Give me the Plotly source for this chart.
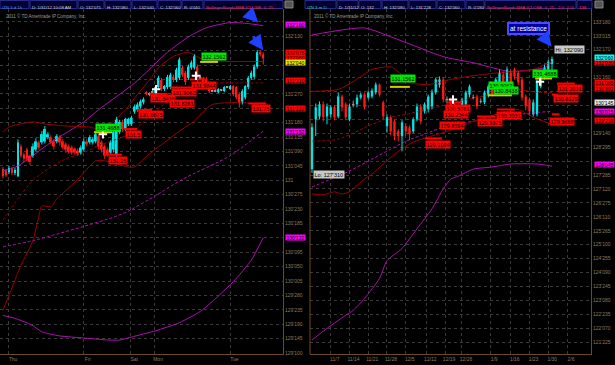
import plotly.graph_objects as go

# ================= DATA =================
# ---- Left panel: /ZN 3 d 1h (hourly candles, index = bar number) ----
L_open = [131.11,131.09,131.08,131.11,131.07,131.04,131.33,131.25,131.30,131.24,
          131.24,131.30,131.37,131.37,131.38,131.42,131.42,131.38,131.38,131.42,
          131.38,131.35,131.33,131.32,131.31,131.29,131.27,131.30,131.38,131.37,
          131.37,131.38,131.43,131.37,131.33,131.30,131.27,131.30,131.25,131.47,
          131.57,131.50,131.55,131.55,131.67,131.69,131.72,131.76,131.86,131.84,
          131.86,131.85,131.91,131.98,131.89,131.91,131.91,132.01,131.98,132.00,
          132.10,132.05,132.00,132.10,132.10,132.11,132.00,132.00,131.99,131.92,
          131.87,131.87,131.86,131.88,131.87,131.91,131.89,131.92,131.91,131.84,
          131.77,131.81,131.91,132.00,132.01,132.11,132.25,132.23]
L_high = [131.13,131.11,131.14,131.13,131.12,131.40,131.35,131.27,131.32,131.25,
          131.36,131.41,131.39,131.48,131.53,131.47,131.44,131.40,131.45,131.44,
          131.40,131.37,131.35,131.34,131.32,131.31,131.34,131.41,131.40,131.44,
          131.42,131.48,131.45,131.39,131.35,131.32,131.39,131.50,131.62,131.59,
          131.59,131.61,131.61,131.63,131.74,131.76,131.79,131.81,131.87,131.86,
          131.88,131.93,132.02,132.00,131.93,132.03,132.05,132.03,132.10,132.20,
          132.12,132.07,132.13,132.17,132.23,132.13,132.03,132.01,132.01,131.93,
          131.88,131.89,131.90,131.89,131.92,131.92,131.93,131.93,131.92,131.86,
          131.89,131.93,132.02,132.07,132.13,132.27,132.27,132.25]
L_low = [131.02,131.03,131.06,131.05,131.05,131.03,131.22,131.18,131.19,131.15,
         131.22,131.28,131.30,131.35,131.36,131.40,131.35,131.30,131.36,131.34,
         131.30,131.27,131.26,131.25,131.25,131.24,131.25,131.28,131.33,131.35,
         131.35,131.36,131.30,131.27,131.21,131.23,131.25,131.27,131.23,131.45,
         131.47,131.48,131.53,131.53,131.65,131.67,131.70,131.74,131.83,131.82,
         131.84,131.83,131.89,131.87,131.87,131.89,131.89,131.96,131.96,131.98,
         132.01,131.93,131.98,132.08,132.08,131.96,131.98,131.94,131.93,131.85,
         131.86,131.86,131.85,131.87,131.86,131.90,131.88,131.82,131.79,131.71,
         131.74,131.79,131.89,131.98,131.99,132.09,132.21,132.13]
L_close = [131.04,131.05,131.12,131.07,131.10,131.37,131.24,131.21,131.21,131.18,
           131.33,131.38,131.32,131.45,131.50,131.45,131.37,131.33,131.43,131.37,
           131.32,131.30,131.28,131.27,131.27,131.26,131.32,131.38,131.35,131.42,
           131.40,131.45,131.33,131.30,131.24,131.25,131.37,131.47,131.60,131.57,
           131.50,131.60,131.60,131.61,131.72,131.74,131.77,131.79,131.84,131.84,
           131.86,131.91,132.00,131.89,131.92,132.01,132.03,131.98,132.08,132.18,
           132.03,131.96,132.11,132.15,132.21,132.00,132.00,131.96,131.94,131.87,
           131.87,131.87,131.89,131.88,131.91,131.91,131.92,131.84,131.81,131.76,
           131.87,131.92,132.00,132.05,132.11,132.25,132.23,132.19]

# Bollinger bands read at selected bars (bar index, value)
L_mag_up_i = [0,5,16,27,32,44,55,62,68,76,82,87]
L_mag_up = [131.09,131.14,131.37,131.57,131.69,131.95,132.25,132.40,132.49,132.54,132.53,132.51]
L_mag_mid_i = [0,10,27,37,42,51,60,76,87]
L_mag_mid = [130.35,130.41,130.55,130.64,130.70,130.85,131.01,131.24,131.48]
L_mag_lo_i = [0,3,7,10,13,19,27,35,39,43,51,59,66,72,77,83,87]
L_mag_lo = [129.68,129.66,129.62,129.58,129.52,129.48,129.46,129.44,129.44,129.47,129.53,129.61,129.72,129.87,130.01,130.22,130.44]
L_red_up_i = [0,2,10,14,21,29,32,37,41,45,49,52,57,62,64,67,75,87]
L_red_up = [131.47,131.52,131.57,131.55,131.53,131.52,131.50,131.58,131.69,131.84,131.98,132.10,132.21,132.25,132.22,132.18,132.16,132.16]
L_red_mid_i = [0,5,10,15,21,27,32,38,43,48,52,57,62,67,72,80,87]
L_red_mid = [130.61,130.82,131.00,131.11,131.21,131.27,131.34,131.40,131.46,131.60,131.70,131.81,131.89,131.93,131.95,131.95,131.95]
L_red_lo_i = [0,3,6,10,12,13,16,18,21,25,31,34,38,42,44,49,54,59,64,67,70,78,83,87]
L_red_lo = [129.73,129.95,130.17,130.41,130.65,130.75,130.74,130.82,130.90,131.01,131.19,131.19,131.16,131.13,131.13,131.26,131.37,131.48,131.58,131.67,131.74,131.76,131.75,131.72]

L_xtick_text = ["Thu", "Fri", "Sat", "Mon", "Tue"]
L_xtick_bar = [2, 27, 42.5, 50.5, 76]
L_ytick_text = ["132'175","132'130","132'085","132'040","131'315","131'270","131'225","131'180",
                "131'135","131'090","131'045","131","130'275","130'230","130'185","130'140",
                "130'095","130'050","130'005","129'280","129'235","129'190","129'145","129'100"]
# grid labels hidden under value bubbles in the original
L_ytick_covered = ["132'175","132'085","132'040","131'315","131'225","130'140"]

# price level lines (start bar, end bar, price, kind)
L_lvl_i0 = [30.4, 33.8, 40.5, 44.8, 49.0, 55.9, 62.5, 65.9, 82.0]
L_lvl_i1 = [36.5, 39.8, 44.8, 49.8, 55.0, 63.2, 68.2, 71.9, 88.0]
L_lvl_p = [131.4688, 131.25, 131.5, 131.6875, 131.8438, 131.9062, 131.9844, 132.1562, 131.75]
L_lvl_kind = ["y", "r", "r", "r", "r", "r", "r", "y", "r"]
# price bubbles (text, bar, price, kind)
L_bub_text = ["131.4688","131.25","131.5","131.6875","131.8438","131.8281","131.9062","131.9844","132.1562","131.75"]
L_bub_i = [35.1, 38.5, 43.5, 49.5, 53.6, 60.0, 60.6, 67.2, 70.6, 86.3]
L_bub_p = [131.52, 131.19, 131.45, 131.64, 131.80, 131.745, 131.855, 131.93, 132.21, 131.70]
L_bub_kind = ["g","r","r","r","r","r","r","r","g","r"]
L_sig_i = [33.4, 51.2, 64.5]
L_sig_p = [131.45, 131.89, 132.02]
# axis value bubbles
L_ax_text = ["132'160","132'075","132'060","132'040","131'310","131'222","131'152","130'122"]
L_ax_p = [132.52, 132.25, 132.20, 132.15, 131.97, 131.70, 131.48, 130.44]
L_ax_kind = ["m","r","r","y","r","r","m","m"]
L_head = ["/ZN 3 d 1h","D: 1/31/12 10:08 AM","O: 132'075","H: 132'080","L: 132'040","C: 132'060","R: 0'040","BollingerBandsSMA (CLOSE, 0, 25, -..."]

# ---- Right panel: /ZN 3 m D (daily candles) ----
R_open = [128.11,129.95,130.06,130.51,130.06,130.14,130.40,130.06,130.80,130.51,
          129.95,130.51,130.51,130.76,130.87,130.76,130.80,130.95,131.24,130.58,
          129.70,130.03,129.88,129.51,129.33,129.70,129.66,129.51,129.95,130.43,
          130.25,130.32,130.43,130.95,131.24,131.43,130.69,130.69,130.51,130.43,
          130.32,130.51,130.87,130.76,130.80,130.62,130.58,130.87,131.17,130.95,
          131.06,131.61,131.17,131.68,131.80,131.68,131.43,130.80,130.69,130.14,
          130.14,131.17,131.54,131.80,132.00]
R_high = [129.81,130.54,130.62,130.62,130.54,130.47,130.47,130.95,130.87,130.58,
          130.54,130.65,130.87,130.95,130.95,131.02,131.10,131.32,131.28,130.65,
          130.14,130.10,129.95,129.59,129.92,129.81,129.73,130.03,130.54,130.51,
          130.58,130.87,131.06,131.50,131.54,131.50,130.80,130.76,130.58,130.51,
          130.76,131.02,131.24,130.87,130.87,130.73,131.02,131.24,131.24,131.50,
          131.80,131.72,131.91,131.80,131.87,131.76,131.50,130.87,130.76,130.69,
          131.43,131.61,131.98,132.16,132.28]
R_low = [127.97,129.33,129.95,129.88,129.77,130.03,129.92,129.99,130.25,129.92,
         129.88,130.40,130.40,130.69,130.32,130.69,130.73,130.87,130.80,129.95,
         129.47,129.36,129.18,129.14,128.77,129.36,129.18,129.44,129.88,129.77,
         130.17,130.21,130.32,130.87,131.13,130.58,130.54,130.32,130.06,130.10,
         130.21,130.40,130.76,130.69,130.32,130.54,130.51,130.76,130.80,130.87,
         130.95,131.13,131.06,131.21,131.43,131.21,130.65,130.29,130.10,130.06,
         130.06,131.10,131.43,131.72,131.71]
R_close = [129.66,130.40,130.51,130.03,130.43,130.40,130.03,130.80,130.40,130.03,
           130.43,130.51,130.76,130.87,130.40,130.95,131.02,131.24,130.87,130.06,
           130.03,129.51,129.33,129.33,129.84,129.51,129.40,129.95,130.43,129.88,
           130.51,130.80,130.95,131.43,131.43,130.69,130.69,130.43,130.14,130.21,
           130.69,130.95,131.17,130.76,130.43,130.62,130.95,131.17,130.87,131.43,
           131.68,131.24,131.80,131.32,131.54,131.32,130.76,130.43,130.25,130.58,
           131.32,131.54,131.87,132.09,132.19]

R_mag_up_i = [0,14,21,28,32,36,43,48,53,59,62,64]
R_mag_up = [133.08,133.34,133.01,132.64,132.42,132.24,132.05,131.87,131.72,131.80,131.87,132.09]
R_mag_mid_i = [0,5,10,16,21,25,32,37,43,48,55,60,64]
R_mag_mid = [127.45,127.74,128.04,128.48,128.85,129.14,129.51,129.77,129.88,130.03,130.14,130.21,130.25]
R_mag_lo_i = [0,3,9,11,14,18,20,24,28,32,35,37,39,43,48,53,60,64]
R_mag_lo = [121.78,122.11,122.70,122.88,123.32,124.06,124.72,125.17,125.90,126.64,127.38,127.74,127.85,128.11,128.19,128.30,128.30,128.22]
R_red_up_i = [0,7,11,16,21,23,26,31,37,43,50,55,59,64]
R_red_up = [130.99,131.06,131.35,131.80,131.90,131.72,131.32,131.24,131.43,131.57,131.68,131.72,131.80,132.09]
R_red_mid_i = [0,7,16,21,25,34,41,48,55,60,64]
R_red_mid = [129.14,129.22,129.77,130.03,130.14,130.43,130.69,130.87,131.06,130.95,130.95]
R_red_lo_i = [0,3,6,8,10,14,16,23,27,36,43,51,55,59,64]
R_red_lo = [127.19,127.16,127.27,127.19,127.27,127.74,127.93,128.77,129.11,129.51,129.88,130.21,130.32,130.03,129.77]

R_xtick_text = ["11/7","11/14","11/21","11/28","12/5","12/12","12/19","12/26","1/9","1/16","1/23","1/30","2/6"]
R_xtick_bar = [5, 10, 15, 20, 25, 30.5, 35.5, 40, 47.5, 53, 58, 63, 68]
R_ytick_text = ["133'180","133'015","132'170","132'005","131'160","130'315","130'150","129'305",
                "129'140","128'295","128'130","127'285","127'120","126'275","126'110","125'265",
                "125'100","124'255","124'090","123'245","123'080","122'235","122'070","121'225"]
R_ytick_covered = ["132'005","130'315","130'150","129'305","128'130"]

R_lvl_i0 = [20.8, 46.9, 59.5, 36.0, 30.1, 44.0, 49.3, 65.3, 64.0, 64.0]
R_lvl_i1 = [26.1, 53.3, 64.0, 40.0, 34.7, 48.8, 54.1, 70.1, 65.6, 66.0]
R_lvl_p = [131.1562, 130.8438, 131.4688, 130.58, 129.25, 130.06, 130.32, 131.28, 130.87, 130.14]
R_lvl_kind = ["y","y","y","r","r","r","r","r","r","r"]
R_bub_text = ["131.1562","130.9062","130.8438","131.4688","130.5781","130.2344","129.8594",
              "129.1094","129.9375","130.2031","131.2031","130.8125","129.9688"]
R_bub_i = [24.4, 50.4, 51.7, 62.1, 38.9, 38.4, 37.3, 33.6, 47.5, 52.5, 68.8, 67.7, 66.7]
R_bub_p = [131.45, 131.19, 131.04, 131.65, 130.36, 130.14, 129.73, 129.03, 129.84, 130.10, 131.08, 130.71, 129.88]
R_bub_kind = ["g","g","g","g","r","r","r","r","r","r","r","r","r"]
R_sig_i = [37.6, 60.8]
R_sig_p = [130.69, 131.35]
R_ax_text = ["132'030","132'060","131'085","130'302","130'145","130'015","129'239","128'045"]
R_ax_p = [132.07, 132.25, 131.30, 131.08, 130.58, 130.25, 129.92, 128.30]
R_ax_kind = ["r","c","r","r","w","m","r","m"]
R_hi_text, R_hi_i, R_hi_p = "Hi: 132'090", 64.6, 132.53
R_lo_text, R_lo_i, R_lo_p = "Lo: 127'310", 0.3, 127.91
R_note_text, R_note_i, R_note_p = "at resistance", 57.6, 133.32
R_head = ["/ZN 3 m D","D: 1/31/12","O: 132","H: 132'090","L: 131'228","C: 132'060","R: 0'190",
          "BollingerBandsSMA (CLOSE, 0, 25, -2.0, 2.0)","138"]

# ================= STYLE =================
W, H = 615, 365
UP, DN, FLAT = "#00e5e5", "#ff1a1a", "#9a9a9a"
MAG, MAROON = "#b010b0", "#9c0000"
GRID, FRAME, TXT = "#3a3a3a", "#6e4b1f", "#8c7b5a"
KIND_BG = {"r": "#ff0000", "g": "#00e600", "m": "#ff00ff", "y": "#e6e600", "c": "#00ffff", "w": "#e8e8e8"}
LINE_COL = {"r": "#ff0000", "y": "#d0d000"}
FONT = "Liberation Sans"


def px(x):
    return x / W


def py(y):
    return 1 - y / H


def p32(s):
    if "'" in s:
        w, f = s.split("'")
        return int(w) + int(f) / 320.0
    return float(s)


fig = go.Figure()


def add_band(xi, vals, color, dash, xa, ya):
    fig.add_trace(go.Scatter(x=xi, y=vals, mode="lines", xaxis=xa, yaxis=ya, hoverinfo="skip",
                             line=dict(color=color, width=1, dash=dash, shape="spline", smoothing=0.6)))


def add_candles(o, h, l, c, xa, ya, mintick):
    base, hgt, col = [], [], []
    wick = {UP: ([], []), DN: ([], []), FLAT: ([], [])}
    for i in range(len(o)):
        k = UP if c[i] > o[i] else (DN if c[i] < o[i] else FLAT)
        lo, hi = min(o[i], c[i]), max(o[i], c[i])
        d = max(hi - lo, mintick)
        base.append(lo - (d - (hi - lo)) / 2)
        hgt.append(d)
        col.append(k)
        wick[k][0].extend([i, i, None])
        wick[k][1].extend([l[i], h[i], None])
    for k, (wx, wy) in wick.items():
        fig.add_trace(go.Scatter(x=wx, y=wy, mode="lines", xaxis=xa, yaxis=ya, hoverinfo="skip",
                                 line=dict(color=k, width=1)))
    fig.add_trace(go.Bar(x=list(range(len(o))), y=hgt, base=base, width=0.62, xaxis=xa, yaxis=ya,
                         marker=dict(color=col, line=dict(width=0)), hoverinfo="skip"))


def add_levels(i0, i1, p, kind, xa, ya):
    for kk in ("r", "y"):
        xs, ys = [], []
        for a, b, v, k in zip(i0, i1, p, kind):
            if k == kk:
                xs += [a, b, None]
                ys += [v, v, None]
        fig.add_trace(go.Scatter(x=xs, y=ys, mode="lines", xaxis=xa, yaxis=ya, hoverinfo="skip",
                                 line=dict(color=LINE_COL[kk], width=2)))


def add_signals(xi, pv, xa, ya):
    fig.add_trace(go.Scatter(x=xi, y=pv, mode="markers", xaxis=xa, yaxis=ya, hoverinfo="skip",
                             marker=dict(symbol="cross-thin", size=6, line=dict(color="white", width=2))))


ann = []


def add_bubbles(texts, xi, pv, kinds, xr, yr):
    for t, x, v, k in zip(texts, xi, pv, kinds):
        ann.append(dict(x=x, y=v, xref=xr, yref=yr, text=t, showarrow=False, bgcolor=KIND_BG[k],
                        font=dict(family=FONT, size=5.5, color="#000000"), borderpad=0.5))


def add_axis_bubbles(texts, pv, kinds, xpix, yr):
    for t, v, k in zip(texts, pv, kinds):
        ann.append(dict(x=px(xpix), y=v, xref="paper", yref=yr, text=t, showarrow=False, xanchor="left",
                        bgcolor=KIND_BG[k], width=19, height=5, borderpad=0,
                        font=dict(family=FONT, size=5, color="#000000")))


# ---- left panel ----
add_band(L_mag_up_i, L_mag_up, MAG, "solid", "x", "y")
add_band(L_mag_mid_i, L_mag_mid, MAG, "3px,2px", "x", "y")
add_band(L_mag_lo_i, L_mag_lo, MAG, "solid", "x", "y")
add_band(L_red_up_i, L_red_up, MAROON, "solid", "x", "y")
add_band(L_red_mid_i, L_red_mid, MAROON, "3px,2px", "x", "y")
add_band(L_red_lo_i, L_red_lo, MAROON, "solid", "x", "y")
add_candles(L_open, L_high, L_low, L_close, "x", "y", 0.006)
add_levels(L_lvl_i0, L_lvl_i1, L_lvl_p, L_lvl_kind, "x", "y")
add_signals(L_sig_i, L_sig_p, "x", "y")
add_bubbles(L_bub_text, L_bub_i, L_bub_p, L_bub_kind, "x", "y")
add_axis_bubbles(L_ax_text, L_ax_p, L_ax_kind, 285, "y")

# ---- right panel ----
add_band(R_mag_up_i, R_mag_up, MAG, "solid", "x2", "y2")
add_band(R_mag_mid_i, R_mag_mid, MAG, "3px,2px", "x2", "y2")
add_band(R_mag_lo_i, R_mag_lo, MAG, "solid", "x2", "y2")
add_band(R_red_up_i, R_red_up, MAROON, "solid", "x2", "y2")
add_band(R_red_mid_i, R_red_mid, MAROON, "3px,2px", "x2", "y2")
add_band(R_red_lo_i, R_red_lo, MAROON, "solid", "x2", "y2")
add_candles(R_open, R_high, R_low, R_close, "x2", "y2", 0.025)
add_levels(R_lvl_i0, R_lvl_i1, R_lvl_p, R_lvl_kind, "x2", "y2")
add_signals(R_sig_i, R_sig_p, "x2", "y2")
add_bubbles(R_bub_text, R_bub_i, R_bub_p, R_bub_kind, "x2", "y2")
add_axis_bubbles(R_ax_text, R_ax_p, R_ax_kind, 594, "y2")

ann.append(dict(x=R_hi_i, y=R_hi_p, xref="x2", yref="y2", text=R_hi_text, showarrow=False, xanchor="left",
                bgcolor="#c8c8c8", borderpad=0.5, font=dict(family=FONT, size=5.5, color="#000000")))
ann.append(dict(x=R_lo_i, y=R_lo_p, xref="x2", yref="y2", text=R_lo_text, showarrow=False, xanchor="left",
                bgcolor="#c8c8c8", borderpad=0.5, font=dict(family=FONT, size=5.5, color="#000000")))
ann.append(dict(x=R_note_i, y=R_note_p, xref="x2", yref="y2", text=R_note_text, showarrow=False,
                bgcolor="#0000a0", bordercolor="#4a4aff", borderwidth=2, borderpad=1,
                font=dict(family=FONT, size=6.5, color="#ffffff")))

# blue arrows
for x, y, xr, yr, ax, ay in [(85.3, 132.54, "x", "y", -10, -10), (87.0, 132.27, "x", "y", -11, -15),
                             (63.9, 132.64, "x2", "y2", -10, -13)]:
    ann.append(dict(x=x, y=y, xref=xr, yref=yr, text="", showarrow=True, ax=ax, ay=ay, arrowhead=2,
                    arrowsize=1, arrowwidth=3, arrowcolor="#2040ff", standoff=0))

# header bars (text left-aligned inside each box)
shapes = []
L_head_x = [(0, 29), (30, 77), (78, 104), (105, 131), (132, 157), (158, 181), (182, 203), (204, 283)]
R_head_x = [(305, 336), (337, 358), (359, 381), (382, 408), (409, 436), (437, 465), (466, 484), (485, 576), (577, 592)]
for boxes, texts, first_col in [(L_head_x, L_head, "#4a8cff"), (R_head_x, R_head, "#28cc88")]:
    for j, ((a, b), t) in enumerate(zip(boxes, texts)):
        shapes.append(dict(type="rect", xref="paper", yref="paper", x0=px(a), x1=px(b), y0=py(8.5), y1=py(0.5),
                           fillcolor="#000033", line=dict(color="#2c2c8c", width=1)))
        if j == 0:
            c = first_col
        elif t.startswith("Bollinger") or t == "138":
            c = "#ff2a2a"
        else:
            c = "#d0d0d0"
        ann.append(dict(x=px(a + 1), y=py(4.5), xref="paper", yref="paper", text=t, showarrow=False,
                        xanchor="left", borderpad=0, font=dict(family=FONT, size=4.3, color=c)))
for a in (285, 595):
    shapes.append(dict(type="rect", xref="paper", yref="paper", x0=px(a), x1=px(a + 8), y0=py(8), y1=py(1),
                       fillcolor="#555555", line=dict(color="#888888", width=1)))
for a in (4, 312):
    ann.append(dict(x=px(a), y=py(11.5), xref="paper", yref="paper", xanchor="left",
                    text="2011 © TD Ameritrade IP Company, Inc.", showarrow=False,
                    font=dict(family=FONT, size=4.5, color="#9a9a9a")))
# right panel left frame edge
shapes.append(dict(type="line", xref="paper", yref="paper", x0=px(310), x1=px(310), y0=py(356), y1=py(9),
                   line=dict(color=FRAME, width=1)))

tickfont = dict(family=FONT, size=5, color=TXT)
common_x = dict(showgrid=True, gridcolor=GRID, griddash="dot", gridwidth=1, showline=True, linecolor=FRAME,
                zeroline=False, ticks="", tickfont=tickfont, ticklabelshift=4, fixedrange=True)
common_y = dict(showgrid=True, gridcolor=GRID, griddash="dot", gridwidth=1, showline=True, linecolor=FRAME,
                zeroline=False, ticks="", tickfont=tickfont, side="right", fixedrange=True)

L_ytick_shown = ["" if t in L_ytick_covered else t for t in L_ytick_text]
R_ytick_shown = ["" if t in R_ytick_covered else t for t in R_ytick_text]

fig.update_layout(
    width=W, height=H, margin=dict(l=0, r=0, t=0, b=0), paper_bgcolor="#000000", plot_bgcolor="#000000",
    showlegend=False, barmode="overlay",
    xaxis=dict(domain=[0, px(283)], range=[-1, 93.6], tickvals=L_xtick_bar, ticktext=L_xtick_text,
               anchor="y", **common_x),
    yaxis=dict(domain=[py(356), py(9)], range=[129.303, 132.673], tickvals=[p32(t) for t in L_ytick_text],
               ticktext=L_ytick_shown, anchor="x", **common_y),
    xaxis2=dict(domain=[px(310), px(591)], range=[-0.53, 74.4], tickvals=R_xtick_bar, ticktext=R_xtick_text,
                anchor="y2", **common_x),
    yaxis2=dict(domain=[py(356), py(9)], range=[121.262, 134.042], tickvals=[p32(t) for t in R_ytick_text],
                ticktext=R_ytick_shown, anchor="x2", **common_y),
    annotations=ann, shapes=shapes,
)

fig.write_html("out.html")
